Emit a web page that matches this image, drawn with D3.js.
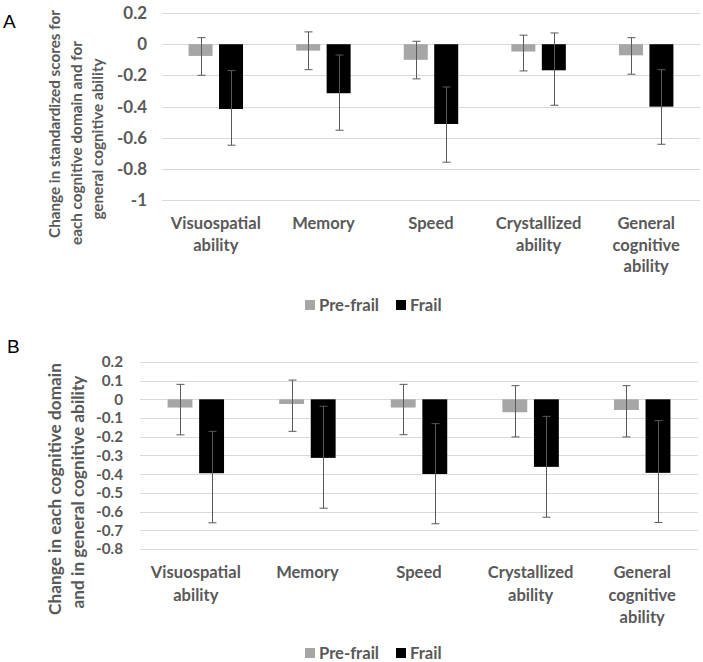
<!DOCTYPE html>
<html>
<head>
<meta charset="utf-8">
<script src="https://cdn.jsdelivr.net/npm/d3@7/dist/d3.min.js"></script>
<style>
  html, body { margin: 0; padding: 0; background: #fff; }
  svg { display: block; }
  text { font-family: Lato, "Open Sans", sans-serif; }
</style>
</head>
<body>
<script>
// ---------- DATA ----------
const categories = ["Visuospatial ability", "Memory", "Speed", "Crystallized ability", "General cognitive ability"];
const categoryLines = [["Visuospatial", "ability"], ["Memory"], ["Speed"], ["Crystallized", "ability"], ["General", "cognitive", "ability"]];
const seriesNames = ["Pre-frail", "Frail"];

// Panel A
const ticksA = [0.2, 0, -0.2, -0.4, -0.6, -0.8, -1];
const preFrailA     = [-0.075, -0.041, -0.100, -0.047, -0.071];
const preFrailLowA  = [-0.199, -0.163, -0.222, -0.171, -0.192];
const preFrailHighA = [ 0.042,  0.079,  0.019,  0.058,  0.042];
const frailA        = [-0.415, -0.314, -0.511, -0.167, -0.400];
const frailLowA     = [-0.647, -0.551, -0.756, -0.391, -0.641];
const frailHighA    = [-0.169, -0.069, -0.274,  0.072, -0.163];
const titleA = ["Change in standardized scores for", "each cognitive domain and for", "general cognitive ability"];

// Panel B
const ticksB = [0.2, 0.1, 0, -0.1, -0.2, -0.3, -0.4, -0.5, -0.6, -0.7, -0.8];
const preFrailB     = [-0.044, -0.025, -0.044, -0.069, -0.057];
const preFrailLowB  = [-0.190, -0.171, -0.189, -0.201, -0.201];
const preFrailHighB = [ 0.080,  0.103,  0.080,  0.073,  0.073];
const frailB        = [-0.395, -0.313, -0.399, -0.361, -0.393];
const frailLowB     = [-0.660, -0.582, -0.665, -0.630, -0.658];
const frailHighB    = [-0.171, -0.037, -0.130, -0.091, -0.114];
const titleB = ["Change in each cognitive domain", "and in general cognitive ability"];

// ---------- DRAW ----------
const W = 703, H = 662;
const TEXT = "#595959", GRID = "#d9d9d9", C_PRE = "#a6a6a6", C_FRAIL = "#000000", ERR = "#595959";

const svg = d3.select("body").append("svg").attr("width", W).attr("height", H);

// measure a string at a base size and return font-size giving target width
function sizeFor(str, target, weight) {
  const t = svg.append("text").style("font-weight", weight || "bold").style("font-size", "20px").text(str);
  const len = t.node().getComputedTextLength();
  t.remove();
  return 20 * target / len;
}

function fitFont(sel, target, base) {
  sel.style("font-size", base + "px");
  let maxLen = 0;
  sel.each(function () { maxLen = Math.max(maxLen, this.getComputedTextLength()); });
  const fs = base * target / maxLen;
  sel.style("font-size", fs + "px");
  return fs;
}

function drawPanel(cfg) {
  const g = svg.append("g");
  const y = d3.scaleLinear().domain(cfg.domain).range([cfg.bottom, cfg.top]);
  const x = d3.scaleBand().domain(categories).range([cfg.left, cfg.right]).padding(0);
  const bw = x.bandwidth();
  const barW = 0.223 * bw, gap = 0.06 * bw;

  // gridlines
  g.append("g").selectAll("line").data(cfg.ticks).join("line")
    .attr("x1", cfg.left).attr("x2", cfg.right)
    .attr("y1", d => Math.round(y(d)) + 0.5).attr("y2", d => Math.round(y(d)) + 0.5)
    .attr("stroke", GRID).attr("stroke-width", 1);

  // y axis labels
  const tickFont = sizeFor(cfg.tickRef, cfg.tickRefW);
  const ax = g.append("g").attr("transform", `translate(${cfg.tickRight},0)`)
    .call(d3.axisLeft(y).tickValues(cfg.ticks).tickSize(0).tickPadding(0).tickFormat(d => String(+d.toFixed(2))));
  ax.select(".domain").remove();
  ax.selectAll("text").attr("fill", TEXT).style("font-family", "Lato, sans-serif")
    .style("font-weight", "bold").style("font-size", tickFont + "px");

  const series = [
    { name: seriesNames[0], vals: cfg.pre, low: cfg.preLow, high: cfg.preHigh, color: C_PRE, off: -gap / 2 - barW },
    { name: seriesNames[1], vals: cfg.frail, low: cfg.frailLow, high: cfg.frailHigh, color: C_FRAIL, off: gap / 2 }
  ];

  series.forEach(s => {
    const rows = categories.map((c, i) => ({ c, v: s.vals[i], lo: s.low[i], hi: s.high[i] }));
    g.append("g").selectAll("rect").data(rows).join("rect")
      .attr("x", d => x(d.c) + bw / 2 + s.off)
      .attr("width", barW)
      .attr("y", d => Math.min(y(0), y(d.v)))
      .attr("height", d => Math.abs(y(d.v) - y(0)))
      .attr("fill", s.color);
    const eg = g.append("g").attr("stroke", ERR).attr("stroke-width", 1);
    rows.forEach(d => {
      const cx = Math.round(x(d.c) + bw / 2 + s.off + barW / 2) + 0.5;
      eg.append("line").attr("x1", cx).attr("x2", cx).attr("y1", y(d.hi)).attr("y2", y(d.lo));
      eg.append("line").attr("x1", cx - 4).attr("x2", cx + 4).attr("y1", y(d.hi)).attr("y2", y(d.hi));
      eg.append("line").attr("x1", cx - 4).attr("x2", cx + 4).attr("y1", y(d.lo)).attr("y2", y(d.lo));
    });
  });

  // x category labels
  const xFont = sizeFor("Visuospatial", cfg.xRefW);
  categories.forEach((c, i) => {
    const t = g.append("text").attr("x", x(c) + bw / 2).attr("y", cfg.xLabelY)
      .attr("text-anchor", "middle").attr("fill", TEXT)
      .style("font-weight", "bold").style("font-size", xFont + "px");
    categoryLines[i].forEach((ln, j) => {
      t.append("tspan").attr("x", x(c) + bw / 2).attr("dy", j === 0 ? 0 : cfg.xLineH).text(ln);
    });
  });

  // y title
  const tt = g.append("g").selectAll("text").data(cfg.title).join("text")
    .attr("transform", (d, i) => `translate(${cfg.titleX[i]},${cfg.titleY[i]}) rotate(-90)`)
    .attr("text-anchor", "middle").attr("dy", "0.35em")
    .attr("fill", TEXT).style("font-weight", "bold")
    .text(d => d);
  fitFont(tt, cfg.titleLen, 15);

  // legend
  const lgFont = sizeFor(seriesNames[0], 60);
  const lg = g.append("g");
  const lgItems = [{ name: seriesNames[0], color: C_PRE, x: 305 }, { name: seriesNames[1], color: C_FRAIL, x: 396 }];
  lgItems.forEach(it => {
    lg.append("rect").attr("x", it.x).attr("y", cfg.legendY - 5).attr("width", 10).attr("height", 10).attr("fill", it.color);
    lg.append("text").attr("x", it.x + 14).attr("y", cfg.legendY + 5.5).attr("fill", TEXT)
      .style("font-weight", "bold").style("font-size", lgFont + "px").text(it.name);
  });

  // panel letter
  g.append("text").attr("x", cfg.letterX).attr("y", cfg.letterY).text(cfg.letter)
    .style("font-family", "'Liberation Sans', Arial, sans-serif").style("font-size", "19px").attr("fill", "#000");
}

drawPanel({
  letter: "A", letterX: 3, letterY: 28,
  domain: [-1, 0.2], top: 13, bottom: 200.3, left: 162, right: 700,
  ticks: ticksA, tickRight: 147, tickRef: "-0.2", tickRefW: 30,
  pre: preFrailA, preLow: preFrailLowA, preHigh: preFrailHighA,
  frail: frailA, frailLow: frailLowA, frailHigh: frailHighA,
  xLabelY: 229, xLineH: 21.5, xRefW: 90,
  title: titleA, titleX: [55, 77, 98], titleY: [124, 143, 139], titleLen: 228,
  legendY: 305
});

drawPanel({
  letter: "B", letterX: 7, letterY: 353,
  domain: [-0.8, 0.2], top: 361.9, bottom: 549, left: 140, right: 698,
  ticks: ticksB, tickRight: 123, tickRef: "-0.8", tickRefW: 27,
  pre: preFrailB, preLow: preFrailLowB, preHigh: preFrailHighB,
  frail: frailB, frailLow: frailLowB, frailHigh: frailHighB,
  xLabelY: 578, xLineH: 22.5, xRefW: 90,
  title: titleB, titleX: [55, 78], titleY: [489, 492], titleLen: 252,
  legendY: 653
});
</script>
</body>
</html>
